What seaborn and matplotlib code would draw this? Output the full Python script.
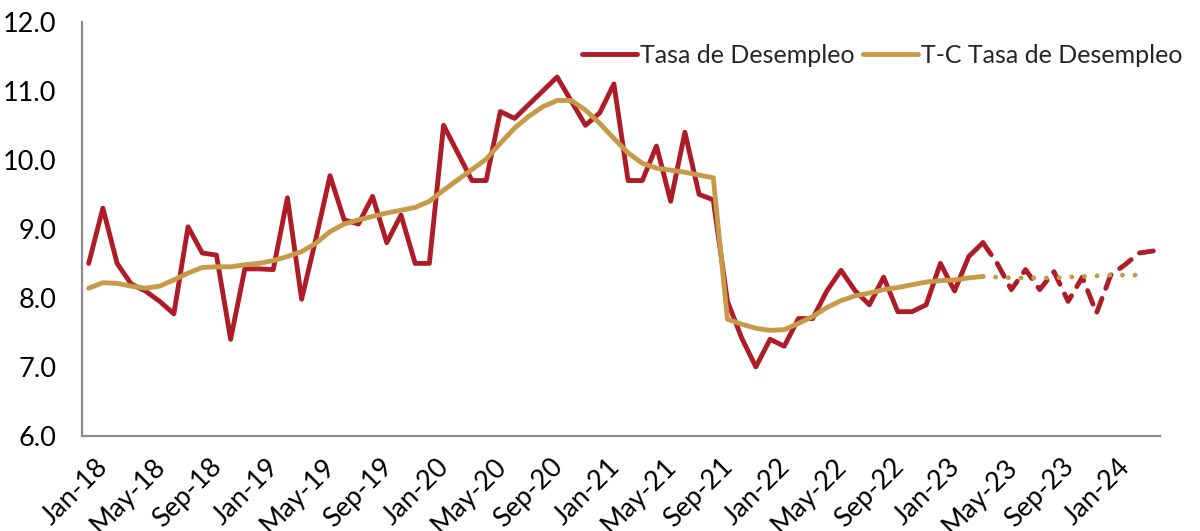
import numpy as np
import pandas as pd
import matplotlib
matplotlib.use("Agg")
import matplotlib.pyplot as plt
import matplotlib.transforms as mtransforms
import seaborn as sns

# --- data (monthly, Jan-18 .. Apr-24) ---
months = pd.date_range("2018-01-01", periods=76, freq="MS")

tasa = [
    8.5, 9.3, 8.5, 8.2, 8.1, 7.95, 7.77, 9.03, 8.65, 8.62, 7.4, 8.42,       # 2018
    8.42, 8.41, 9.45, 7.98, 8.85, 9.77, 9.13, 9.07, 9.47, 8.8, 9.2, 8.5,    # 2019
    8.5, 10.5, 10.1, 9.7, 9.7, 10.7, 10.6, 10.8, 11.0, 11.2, 10.85, 10.5,   # 2020
    10.68, 11.1, 9.7, 9.7, 10.2, 9.4, 10.4, 9.5, 9.42, 7.95, 7.42, 7.0,     # 2021
    7.4, 7.3, 7.7, 7.7, 8.1, 8.4, 8.1, 7.9, 8.3, 7.8, 7.8, 7.9,             # 2022
    8.5, 8.1, 8.6, 8.8, 8.5, 8.12, 8.41, 8.12, 8.38, 7.95, 8.3, 7.78,       # 2023
    8.33, 8.48, 8.65, 8.68,                                                 # 2024
]

tendencia = [
    8.14, 8.22, 8.21, 8.17, 8.14, 8.17, 8.26, 8.36, 8.44, 8.45, 8.45, 8.48,
    8.50, 8.54, 8.60, 8.67, 8.79, 8.96, 9.07, 9.13, 9.18, 9.23, 9.27, 9.31,
    9.40, 9.56, 9.71, 9.86, 10.01, 10.24, 10.46, 10.63, 10.77, 10.86, 10.86, 10.72,
    10.53, 10.31, 10.10, 9.95, 9.88, 9.85, 9.82, 9.78, 9.74, 7.69, 7.62, 7.56,
    7.53, 7.54, 7.63, 7.73, 7.86, 7.96, 8.03, 8.07, 8.12, 8.15, 8.19, 8.23,
    8.25, 8.26, 8.29, 8.31, 8.30, 8.29, 8.29, 8.29, 8.29, 8.30, 8.31, 8.32,
    8.33, 8.33, 8.33, np.nan,
]

# last observed month (Apr-23); after it the lines are projections
corte = 63

ROJO = "#AE1C28"
ORO = "#C79A4A"
LW = 3.5

df = pd.DataFrame({"t": np.arange(len(months)), "tasa": tasa, "tc": tendencia})
obs = df.iloc[: corte + 1]
proy = df.iloc[corte:]

sns.set_style("white")
plt.rcParams["font.family"] = ["Lato", "DejaVu Sans"]

fig = plt.figure(figsize=(12, 5.31), dpi=100)
ax = fig.add_axes([0.068, 0.179, 0.899, 0.78])

sns.lineplot(data=obs, x="t", y="tasa", ax=ax, color=ROJO, lw=LW,
             label="Tasa de Desempleo")
sns.lineplot(data=obs, x="t", y="tc", ax=ax, color=ORO, lw=LW,
             label="T-C Tasa de Desempleo")
sns.lineplot(data=proy, x="t", y="tasa", ax=ax, color=ROJO, lw=LW,
             legend=False)
sns.lineplot(data=proy.dropna(), x="t", y="tc", ax=ax, color=ORO, lw=LW,
             legend=False)

# projection styling: red dashed, gold dotted
ax.lines[2].set_linestyle((0, (3.0, 2.2)))
ax.lines[2].set_dash_capstyle("round")
ax.lines[3].set_linestyle((0, (0.01, 2.6)))
ax.lines[3].set_dash_capstyle("round")

ax.set_xlim(-0.5, len(months) - 0.5)
ax.set_ylim(6, 12)
ax.set_yticks(np.arange(6, 12.1, 1))
ax.set_yticklabels([f"{v:.1f}" for v in np.arange(6, 12.1, 1)])

ticks = np.arange(0, len(months), 4)
ax.set_xticks(ticks)
ax.set_xticklabels([months[i].strftime("%b-%y") for i in ticks],
                   rotation=45, ha="right", rotation_mode="anchor")

ax.tick_params(axis="both", labelsize=19.5, length=0, colors="black")
ax.tick_params(axis="y", pad=18)
ax.tick_params(axis="x", pad=13)
ax.set_xlabel("")
ax.set_ylabel("")

# nudge the rotated month labels a little to the right, as in the reference
shift = mtransforms.ScaledTranslation(7 / 100, 0, fig.dpi_scale_trans)
for lab in ax.get_xticklabels():
    lab.set_transform(lab.get_transform() + shift)

sns.despine(ax=ax)
for s in ["left", "bottom"]:
    ax.spines[s].set_color("#8C8C8C")
    ax.spines[s].set_linewidth(1.6)

ax.legend(loc="upper right", bbox_to_anchor=(1.03, 0.97), ncol=2,
          frameon=False, fontsize=18, handlelength=2.2,
          handletextpad=0.15, columnspacing=0.3, borderaxespad=0)

fig.savefig("out.png", dpi=100)
